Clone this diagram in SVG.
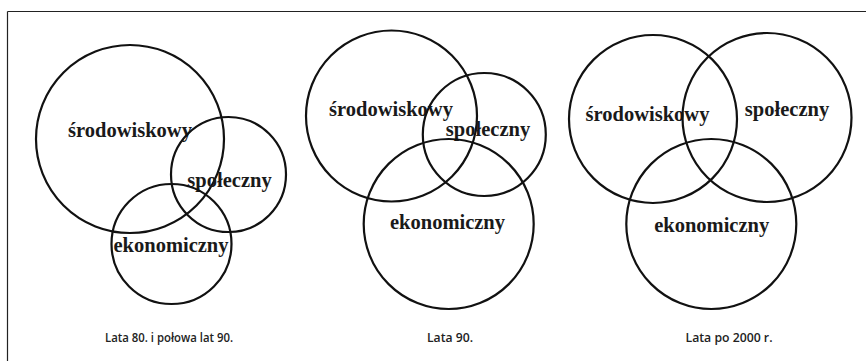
<svg xmlns="http://www.w3.org/2000/svg" width="866" height="361" viewBox="0 0 866 361" overflow="hidden">
<style>
.c{fill:none;stroke:#111;stroke-width:2.2}
.l{font-family:"Liberation Serif","Times New Roman",serif;font-weight:bold;font-size:20.5px;fill:#1a1a1a;text-anchor:middle}
.cap{font-family:"Open Sans","Liberation Sans",sans-serif;font-weight:600;font-size:12.5px;fill:#222;text-anchor:middle}
.frame{fill:none;stroke:#222;stroke-width:1.2}
</style>
<rect width="866" height="361" fill="#fff"/>
<g id="frame">
<line class="frame" x1="7.5" y1="11.5" x2="866" y2="11.5"/>
<line class="frame" x1="7.5" y1="11.5" x2="7.5" y2="361"/>
</g>
<g id="panel1">
<g id="p1-srodowiskowy"><circle class="c" cx="130" cy="139" r="94"/><text class="l" x="130" y="137">środowiskowy</text></g>
<g id="p1-spoleczny"><circle class="c" cx="228.5" cy="174.5" r="57.5"/><text class="l" x="229.5" y="187">społeczny</text></g>
<g id="p1-ekonomiczny"><circle class="c" cx="171.5" cy="244" r="60"/><text class="l" x="171" y="252">ekonomiczny</text></g>
<text class="cap" x="169" y="342" textLength="128" lengthAdjust="spacingAndGlyphs">Lata 80. i połowa lat 90.</text>
</g>
<g id="panel2">
<g id="p2-srodowiskowy"><circle class="c" cx="391.5" cy="116" r="85.5"/><text class="l" x="391" y="116">środowiskowy</text></g>
<g id="p2-spoleczny"><circle class="c" cx="484.3" cy="134.5" r="61.5"/><text class="l" x="488" y="136">społeczny</text></g>
<g id="p2-ekonomiczny"><circle class="c" cx="448.7" cy="224" r="85"/><text class="l" x="447.5" y="229">ekonomiczny</text></g>
<text class="cap" x="450" y="342" textLength="46" lengthAdjust="spacingAndGlyphs">Lata 90.</text>
</g>
<g id="panel3">
<g id="p3-srodowiskowy"><circle class="c" cx="653" cy="119" r="84"/><text class="l" x="647.5" y="121">środowiskowy</text></g>
<g id="p3-spoleczny"><circle class="c" cx="767" cy="117.5" r="84.5"/><text class="l" x="787" y="116">społeczny</text></g>
<g id="p3-ekonomiczny"><circle class="c" cx="711.3" cy="224" r="85"/><text class="l" x="711.7" y="232">ekonomiczny</text></g>
<text class="cap" x="729" y="342" textLength="87" lengthAdjust="spacingAndGlyphs">Lata po 2000 r.</text>
</g>
</svg>
